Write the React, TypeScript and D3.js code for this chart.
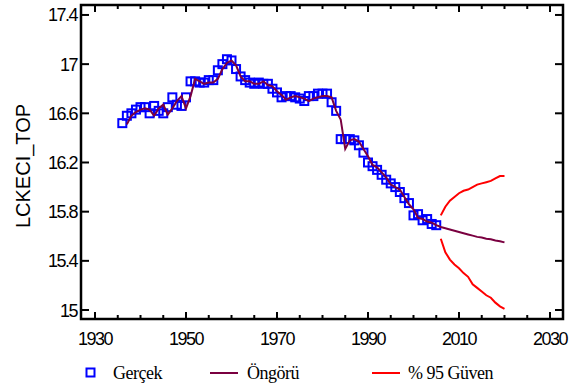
import React from "react";
import * as d3 from "d3";

// actual series, 1936-2005
const actualStart = 1936;
const actual = [
  16.52, 16.58, 16.60, 16.63, 16.65, 16.65, 16.60, 16.66, 16.62, 16.60,
  16.65, 16.73, 16.67, 16.66, 16.73, 16.86, 16.86, 16.85, 16.85, 16.87,
  16.87, 16.95, 17.00, 17.04, 17.03, 16.96, 16.90, 16.87, 16.85, 16.84,
  16.85, 16.84, 16.84, 16.80, 16.77, 16.73, 16.74, 16.74, 16.73, 16.72,
  16.70, 16.74, 16.74, 16.76, 16.76, 16.76, 16.69, 16.62, 16.39, 16.39,
  16.39, 16.38, 16.34, 16.28, 16.20, 16.17, 16.14, 16.10, 16.06, 16.03,
  16.00, 15.96, 15.91, 15.87, 15.77, 15.78, 15.73, 15.74, 15.70, 15.69,
];

// fitted (one step ahead) 1937-2005, then forecast 2006-2020
const fittedStart = 1937;
const fitted = [
  16.51, 16.58, 16.61, 16.63, 16.64, 16.63, 16.58, 16.64, 16.67, 16.59,
  16.64, 16.70, 16.74, 16.64, 16.74, 16.88, 16.86, 16.84, 16.85, 16.85,
  16.88, 16.96, 17.01, 17.03, 16.99, 16.90, 16.86, 16.86, 16.84, 16.84,
  16.86, 16.83, 16.82, 16.78, 16.75, 16.71, 16.73, 16.74, 16.73, 16.72,
  16.70, 16.72, 16.73, 16.74, 16.74, 16.73, 16.62, 16.55, 16.31, 16.38,
  16.39, 16.37, 16.31, 16.25, 16.18, 16.16, 16.12, 16.08, 16.02, 16.00,
  15.98, 15.92, 15.86, 15.82, 15.75, 15.74, 15.72, 15.71, 15.69,
  15.675, 15.665, 15.655, 15.645, 15.635, 15.625, 15.615, 15.605, 15.595,
  15.59, 15.58, 15.575, 15.565, 15.56, 15.55,
];

// 95% band 2006-2020
const bandStart = 2006;
const upper = [
  15.77, 15.84, 15.89, 15.92, 15.95, 15.97, 15.98, 16.0, 16.02, 16.03,
  16.04, 16.05, 16.07, 16.09, 16.09,
];
const lower = [
  15.58, 15.47, 15.41, 15.37, 15.34, 15.30, 15.27, 15.21, 15.18, 15.15,
  15.12, 15.10, 15.06, 15.03, 15.01,
];

const yTicks = [15, 15.4, 15.8, 16.2, 16.6, 17, 17.4];
const xTicks = [1930, 1950, 1970, 1990, 2010, 2030];

const W = 576, H = 388;
const left = 81, right = 563, top = 5, bottom = 319;

export default function App() {
  const x = d3.scaleLinear().domain([1926.92, 2032.86]).range([left, right]);
  const y = d3.scaleLinear().domain([14.927, 17.481]).range([bottom, top]);

  const mk = (start: number, arr: number[]) => arr.map((v, i) => [start + i, v] as [number, number]);
  const ln = d3.line<[number, number]>().x(d => x(d[0])).y(d => y(d[1]));

  const minorX = d3.range(1930, 2031, 5);
  const tickFont = { fontFamily: "Arial, 'Liberation Sans', sans-serif", fontSize: 18, letterSpacing: -1.5 };
  const legFont = { fontFamily: "'Liberation Serif', 'Times New Roman', serif", fontSize: 18, letterSpacing: -0.5 };

  return (
    <svg width={W} height={H} style={{ position: "absolute", left: 0, top: 0, background: "#fff" }}>
      {actual.map((v, i) => (
        <rect key={i} x={x(actualStart + i) - 4} y={y(v) - 4} width={8} height={8}
          fill="none" stroke="#0000ff" strokeWidth={2} />
      ))}
      <path d={ln(mk(fittedStart, fitted)) || ""} fill="none" stroke="#7a0040" strokeWidth={2} />
      <path d={ln(mk(bandStart, upper)) || ""} fill="none" stroke="#ff0000" strokeWidth={2} />
      <path d={ln(mk(bandStart, lower)) || ""} fill="none" stroke="#ff0000" strokeWidth={2} />

      <rect x={left} y={top} width={right - left} height={bottom - top} fill="none" stroke="#000" strokeWidth={2.5} />
      {minorX.map(t => {
        const major = xTicks.includes(t);
        const len = major ? 7 : 4;
        return (
          <g key={t}>
            <line x1={x(t)} x2={x(t)} y1={bottom} y2={bottom - len} stroke="#000" strokeWidth={2} />
            <line x1={x(t)} x2={x(t)} y1={top} y2={top + len} stroke="#000" strokeWidth={2} />
          </g>
        );
      })}
      {yTicks.map(t => (
        <g key={t}>
          <line x1={left} x2={left + 8} y1={y(t)} y2={y(t)} stroke="#000" strokeWidth={2} />
          <line x1={right} x2={right - 8} y1={y(t)} y2={y(t)} stroke="#000" strokeWidth={2} />
          <text x={77} y={y(t) + 6.5} textAnchor="end" style={tickFont}>{String(t)}</text>
        </g>
      ))}
      {xTicks.map(t => (
        <text key={t} x={x(t)} y={345} textAnchor="middle" style={tickFont}>{t}</text>
      ))}
      <text transform={`translate(30,166) rotate(-90)`} textAnchor="middle"
        style={{ fontFamily: "Arial, 'Liberation Sans', sans-serif", fontSize: 20 }}>LCKECI_TOP</text>

      <rect x={86.5} y={368.5} width={8} height={8} fill="none" stroke="#0000ff" strokeWidth={2} />
      <text x={113} y={379} style={legFont}>Gerçek</text>
      <line x1={210} x2={238} y1={373} y2={373} stroke="#7a0040" strokeWidth={2} />
      <text x={247} y={379} style={legFont}>Öngörü</text>
      <line x1={372} x2={400} y1={373} y2={373} stroke="#ff0000" strokeWidth={2} />
      <text x={408} y={379} style={legFont}>% 95 Güven</text>
    </svg>
  );
}
